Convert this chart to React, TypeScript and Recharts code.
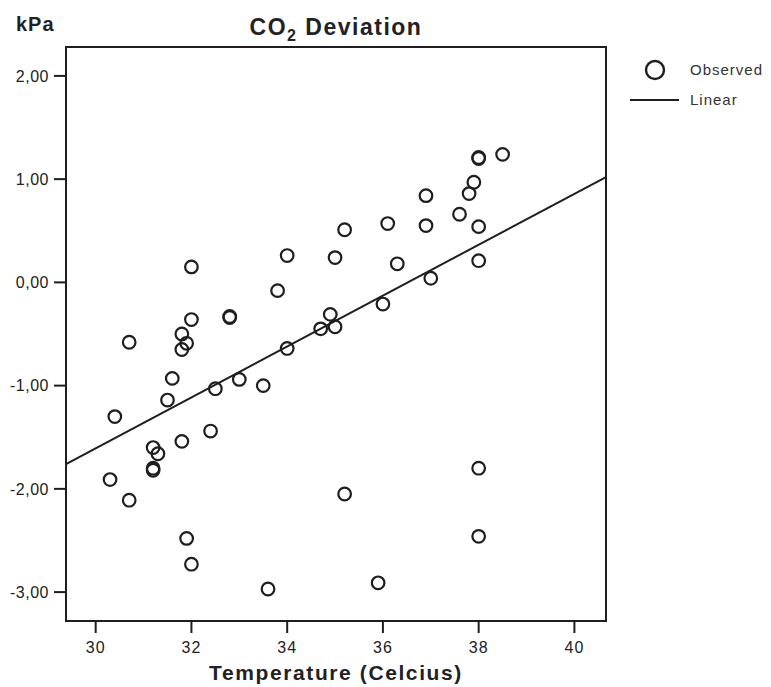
import { ReferenceArea, ReferenceLine, Scatter, ScatterChart, XAxis, YAxis } from "recharts";

// observed points: temperature (°C) and CO2 deviation (kPa)
const temperature = [
	30.3, 30.4, 30.7, 30.7, 31.2, 31.2, 31.2, 31.3, 31.5, 31.6, 31.8, 31.8, 31.9, 31.8, 31.9, 32.0,
	32.0, 32.0, 32.5, 32.4, 32.8, 32.8, 33.0, 33.5, 33.6, 33.8, 34.0, 34.0, 34.7, 34.9, 35.0, 35.0,
	35.2, 35.2, 36.0, 35.9, 36.1, 36.3, 36.9, 36.9, 37.0, 37.6, 37.8, 37.9, 38.0, 38.0, 38.5, 38.0,
	38.0, 38.0, 38.0,
];
const deviation = [
	-1.91, -1.3, -0.58, -2.11, -1.6, -1.8, -1.82, -1.66, -1.14, -0.93, -0.5, -0.65, -0.59, -1.54,
	-2.48, -2.73, 0.15, -0.36, -1.03, -1.44, -0.34, -0.33, -0.94, -1.0, -2.97, -0.08, 0.26, -0.64,
	-0.45, -0.31, -0.43, 0.24, 0.51, -2.05, -0.21, -2.91, 0.57, 0.18, 0.84, 0.55, 0.04, 0.66, 0.86,
	0.97, 1.21, 1.2, 1.24, 0.54, 0.21, -1.8, -2.46,
];

// fitted linear line end points
const fitX = [29.38, 40.66];
const fitY = [-1.76, 1.02];

const xTicks = [30, 32, 34, 36, 38, 40];
const yTicks = [-3, -2, -1, 0, 1, 2];
const xDomain = [29.38, 40.66];
const yDomain = [-3.28, 2.28];

const points = temperature.map((t, i) => ({ t, dev: deviation[i] }));

const INK = "#1e1e1e";
const FONT = "'Liberation Sans', Arial, sans-serif";

function Ring(props: any) {
	const { cx, cy } = props;
	if (cx == null || cy == null) return null;
	return <circle cx={cx} cy={cy} r={6.3} fill="none" stroke={INK} strokeWidth={2.2} />;
}

export default function App() {
	return (
		<div style={{ position: "absolute", left: 0, top: 0, width: 771, height: 687, background: "#fff" }}>
			<ScatterChart
				width={771}
				height={687}
				margin={{ top: 47, right: 165, bottom: 16, left: 6 }}
			>
				<XAxis
					type="number"
					dataKey="t"
					domain={xDomain}
					ticks={xTicks}
					allowDataOverflow
					height={50}
					axisLine={{ stroke: INK, strokeWidth: 2 }}
					tickLine={{ stroke: INK, strokeWidth: 2 }}
					tickSize={12}
					tickMargin={9}
					tick={{ fill: "#222", fontSize: 16, fontFamily: FONT, letterSpacing: 1 }}
				/>
				<YAxis
					type="number"
					dataKey="dev"
					domain={yDomain}
					ticks={yTicks}
					allowDataOverflow
					width={60}
					axisLine={{ stroke: INK, strokeWidth: 2 }}
					tickLine={{ stroke: INK, strokeWidth: 2 }}
					tickSize={12}
					tickMargin={5}
					tickFormatter={(v: number) => v.toFixed(2).replace(".", ",")}
					tick={{ fill: "#222", fontSize: 16, fontFamily: FONT, letterSpacing: 0.5 }}
				/>
				<ReferenceArea
					x1={xDomain[0]}
					x2={xDomain[1]}
					y1={yDomain[0]}
					y2={yDomain[1]}
					fill="none"
					fillOpacity={0}
					stroke={INK}
					strokeWidth={2}
				/>
				<ReferenceLine
					segment={[
						{ x: fitX[0], y: fitY[0] },
						{ x: fitX[1], y: fitY[1] },
					]}
					stroke={INK}
					strokeWidth={2}
				/>
				<Scatter data={points} shape={<Ring />} isAnimationActive={false} />
			</ScatterChart>
			<svg
				width={771}
				height={687}
				style={{ position: "absolute", left: 0, top: 0, pointerEvents: "none" }}
			>
				<text x={16} y={31} fontSize={20} fontWeight="bold" fill="#222" fontFamily={FONT} letterSpacing={1}>
					kPa
				</text>
				<text x={336} y={35} fontSize={23} fontWeight="bold" fill="#222" fontFamily={FONT} textAnchor="middle" letterSpacing={1.5}>
					CO
					<tspan fontSize={16} dy={6}>
						2
					</tspan>
					<tspan dy={-6}> Deviation</tspan>
				</text>
				<text x={336} y={680} fontSize={21} fontWeight="bold" fill="#222" fontFamily={FONT} textAnchor="middle" letterSpacing={1.6}>
					Temperature (Celcius)
				</text>
				{/* legend */}
				<circle cx={655} cy={70} r={9} fill="none" stroke={INK} strokeWidth={2.4} />
				<text x={690} y={75} fontSize={15} fill="#333" fontFamily={FONT} letterSpacing={1}>
					Observed
				</text>
				<line x1={630} x2={679} y1={100} y2={100} stroke={INK} strokeWidth={1.8} />
				<text x={690} y={105} fontSize={15} fill="#333" fontFamily={FONT} letterSpacing={1}>
					Linear
				</text>
			</svg>
		</div>
	);
}
